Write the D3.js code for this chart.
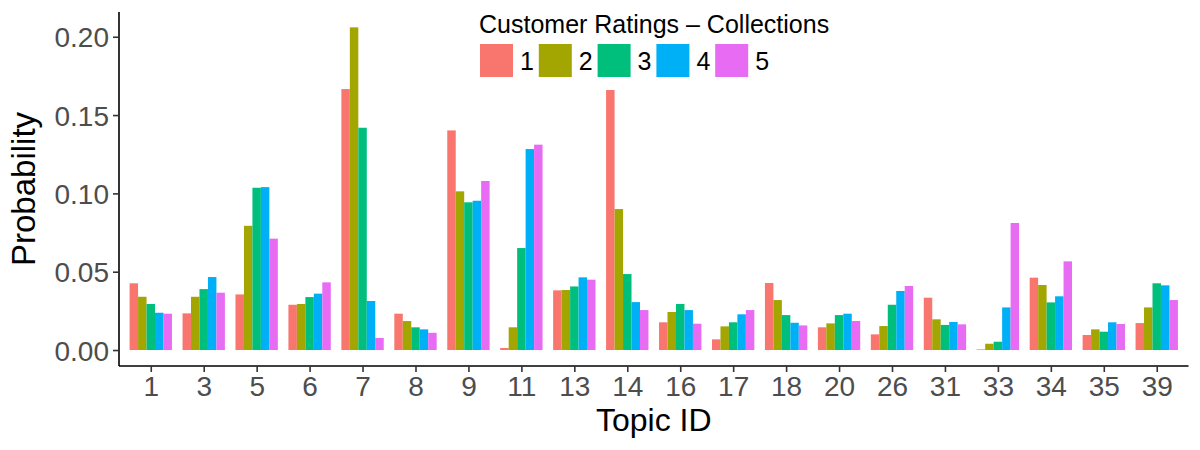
<!DOCTYPE html>
<html>
<head>
<meta charset="utf-8">
<script src="https://cdn.jsdelivr.net/npm/d3@7"></script>
<style>
  body { margin: 0; background: #fff; }
  text { font-family: "Liberation Sans", Arial, sans-serif; }
</style>
</head>
<body>
<div id="chart"></div>
<script>
var w = 1200, h = 450;

var topics = ["1","3","5","6","7","8","9","11","13","14","16","17","18","20","26","31","33","34","35","39"];
var ratings = ["1","2","3","4","5"];
var colors = ["#F8766D","#A3A500","#00BF7D","#00B0F6","#E76BF3"];
var yTicks = [0, 0.05, 0.10, 0.15, 0.20];

// one array per rating, in topic order
var r1 = [0.0426,0.0234,0.0355,0.0289,0.1666,0.0232,0.1402,0.0013,0.0381,0.1660,0.0177,0.0068,0.0428,0.0145,0.0100,0.0334,0.0004,0.0462,0.0096,0.0172];
var r2 = [0.0340,0.0340,0.0793,0.0294,0.2060,0.0185,0.1013,0.0145,0.0383,0.0900,0.0243,0.0151,0.0319,0.0170,0.0153,0.0196,0.0040,0.0415,0.0132,0.0272];
var r3 = [0.0294,0.0389,0.1036,0.0338,0.1419,0.0145,0.0943,0.0651,0.0406,0.0485,0.0294,0.0177,0.0223,0.0223,0.0289,0.0160,0.0053,0.0304,0.0117,0.0426];
var r4 = [0.0238,0.0466,0.1040,0.0360,0.0313,0.0132,0.0953,0.1283,0.0464,0.0306,0.0255,0.0228,0.0174,0.0232,0.0377,0.0179,0.0272,0.0343,0.0177,0.0413];
var r5 = [0.0232,0.0366,0.0711,0.0432,0.0077,0.0110,0.1079,0.1311,0.0449,0.0255,0.0168,0.0255,0.0157,0.0185,0.0409,0.0164,0.0811,0.0566,0.0166,0.0319];
var series = [r1, r2, r3, r4, r5];

var pl = 119, pr = 1188.5, pt = 12, pb = 366;

var svg = d3.select("#chart").append("svg").attr("width", w).attr("height", h);

var x = d3.scalePoint().domain(topics).range([pl, pr]).padding(0.6);
var step = x.step();
var inner = d3.scaleBand().domain(ratings).range([-0.4 * step, 0.4 * step]);
var y = d3.scaleLinear().domain([-0.0102, 0.2158]).range([pb, pt]);
var color = d3.scaleOrdinal().domain(ratings).range(colors);

var rows = [];
topics.forEach(function (t, i) {
  ratings.forEach(function (r, j) {
    rows.push({topic: t, rating: r, value: series[j][i]});
  });
});

svg.append("g").selectAll("rect").data(rows).enter().append("rect")
  .attr("x", function (d) { return x(d.topic) + inner(d.rating); })
  .attr("width", inner.bandwidth())
  .attr("y", function (d) { return y(d.value); })
  .attr("height", function (d) { return y(0) - y(d.value); })
  .attr("fill", function (d) { return color(d.rating); });

// axes
var yAxis = svg.append("g").attr("transform", "translate(" + pl + ",0)")
  .call(d3.axisLeft(y).tickValues(yTicks).tickFormat(d3.format(".2f")).tickSize(6).tickPadding(4));
var xAxis = svg.append("g").attr("transform", "translate(0," + pb + ")")
  .call(d3.axisBottom(x).tickSize(6).tickPadding(4));

yAxis.select(".domain").attr("d", "M0," + pt + "V" + pb);
xAxis.select(".domain").attr("d", "M" + pl + ",0H" + pr);
[yAxis, xAxis].forEach(function (a) {
  a.select(".domain").attr("stroke", "#000").attr("stroke-width", 1.6);
  a.selectAll(".tick line").attr("stroke", "#333").attr("stroke-width", 1.6);
  a.selectAll(".tick text").attr("fill", "#4d4d4d").style("font-size", "28px");
});
yAxis.selectAll(".tick text").attr("dy", "0.36em");
xAxis.selectAll(".tick text").attr("dy", "0.71em");

svg.append("text").attr("transform", "translate(35," + ((pt + pb) / 2) + ") rotate(-90)")
  .attr("text-anchor", "middle").style("font-size", "33px").attr("fill", "#000").text("Probability");
svg.append("text").attr("x", (pl + pr) / 2).attr("y", 431)
  .attr("text-anchor", "middle").style("font-size", "32px").attr("fill", "#000").text("Topic ID");

// legend
var lg = svg.append("g").attr("transform", "translate(479,0)");
lg.append("text").attr("x", 0).attr("y", 33).style("font-size", "25px").attr("fill", "#000")
  .text("Customer Ratings \u2013 Collections");
var item = lg.selectAll(".item").data(ratings).enter().append("g")
  .attr("transform", function (d, i) { return "translate(" + (1 + i * 58.8) + ",44)"; });
item.append("rect").attr("width", 33).attr("height", 33).attr("fill", function (d) { return color(d); });
item.append("text").attr("x", 40).attr("y", 16.5).attr("dy", "0.36em")
  .style("font-size", "25px").attr("fill", "#000").text(function (d) { return d; });
</script>
</body>
</html>
